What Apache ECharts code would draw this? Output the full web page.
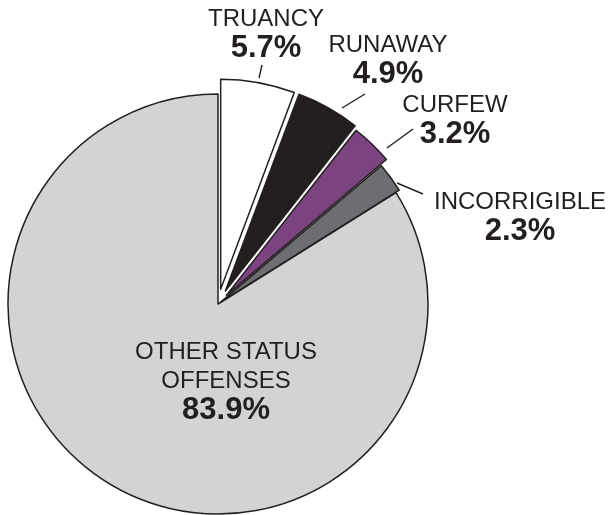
<!DOCTYPE html>
<html>
<head>
<meta charset="UTF-8">
<title>Status offenses</title>
<script src="https://cdn.jsdelivr.net/npm/echarts@6/dist/echarts.min.js"></script>
<style>
  html, body { margin: 0; padding: 0; background: #fff; }
  #main { width: 615px; height: 515px; }
</style>
</head>
<body>
<div id="main"></div>
<script type="text/javascript">
// data
var names = ['TRUANCY', 'RUNAWAY', 'CURFEW', 'INCORRIGIBLE', 'OTHER STATUS\nOFFENSES'];
var shares = [5.7, 4.9, 3.2, 2.3, 83.9];

// look
var colors = ['#ffffff', '#231f20', '#7b4480', '#6d6e71', '#d1d3d4'];
var offsets = [15, 15, 12, 4, 0];   // how far each slice is pulled out
var pieCenter = [218, 304];
var pieRadius = 210;
// label block centre and leader line (start, end) for each slice
var labelPos = [[266, 34], [388, 60], [455, 120], [520, 217], [226, 381]];
var leaders = [
    [[259, 78], [262, 65]],
    [[342, 108], [365, 94]],
    [[387, 148], [413, 129]],
    [[397, 183], [423, 194]],
    null
];

var myChart = echarts.init(document.getElementById('main'));

var total = shares.reduce(function (a, b) { return a + b; }, 0);

// one pie series per slice; a pulled-out slice gets its centre moved along its middle angle
function makeSeries(k) {
    var before = 0;
    for (var j = 0; j < k; j++) before += shares[j];
    var mid = (before + shares[k] / 2) / total * 2 * Math.PI;
    var c = [pieCenter[0] + offsets[k] * Math.sin(mid), pieCenter[1] - offsets[k] * Math.cos(mid)];

    var data = names.map(function (n, i) {
        var item = { name: n, value: shares[i] };
        if (i === k) {
            item.itemStyle = { color: colors[i], borderColor: '#231f20', borderWidth: 1.5 };
            item.label = { show: true };
            item.labelLine = { show: !!leaders[i] };
        } else {
            item.itemStyle = { color: 'rgba(0,0,0,0)', borderWidth: 0 };
            item.label = { show: false };
            item.labelLine = { show: false };
        }
        return item;
    });
    return {
        type: 'pie',
        center: c,
        radius: pieRadius,
        startAngle: 90,
        clockwise: true,
        silent: true,
        avoidLabelOverlap: false,
        emphasis: { disabled: true },
        label: {
            position: k === 4 ? 'inside' : 'outside',
            color: '#231f20',
            fontFamily: 'Liberation Sans',
            formatter: function (p) {
                return '{n|' + p.name + '}\n{v|' + p.value + '%}';
            },
            rich: {
                n: { fontSize: 24, fontFamily: 'Liberation Sans', color: '#231f20', lineHeight: 29 },
                v: { fontSize: 31, fontWeight: 'bold', fontFamily: 'Liberation Sans', color: '#231f20', lineHeight: 29 }
            }
        },
        labelLine: {
            length: 15,
            length2: 0,
            lineStyle: { color: '#231f20', width: 1.4 }
        },
        labelLayout: function (p) {
            var i = p.dataIndex;
            var out = {
                x: labelPos[i][0],
                y: labelPos[i][1],
                align: 'center',
                verticalAlign: 'middle',
                hideOverlap: false
            };
            if (leaders[i]) out.labelLinePoints = leaders[i];
            return out;
        },
        data: data
    };
}

var option = {
    animation: false,
    series: [makeSeries(4), makeSeries(0), makeSeries(1), makeSeries(2), makeSeries(3)]
};

myChart.setOption(option);
</script>
</body>
</html>
